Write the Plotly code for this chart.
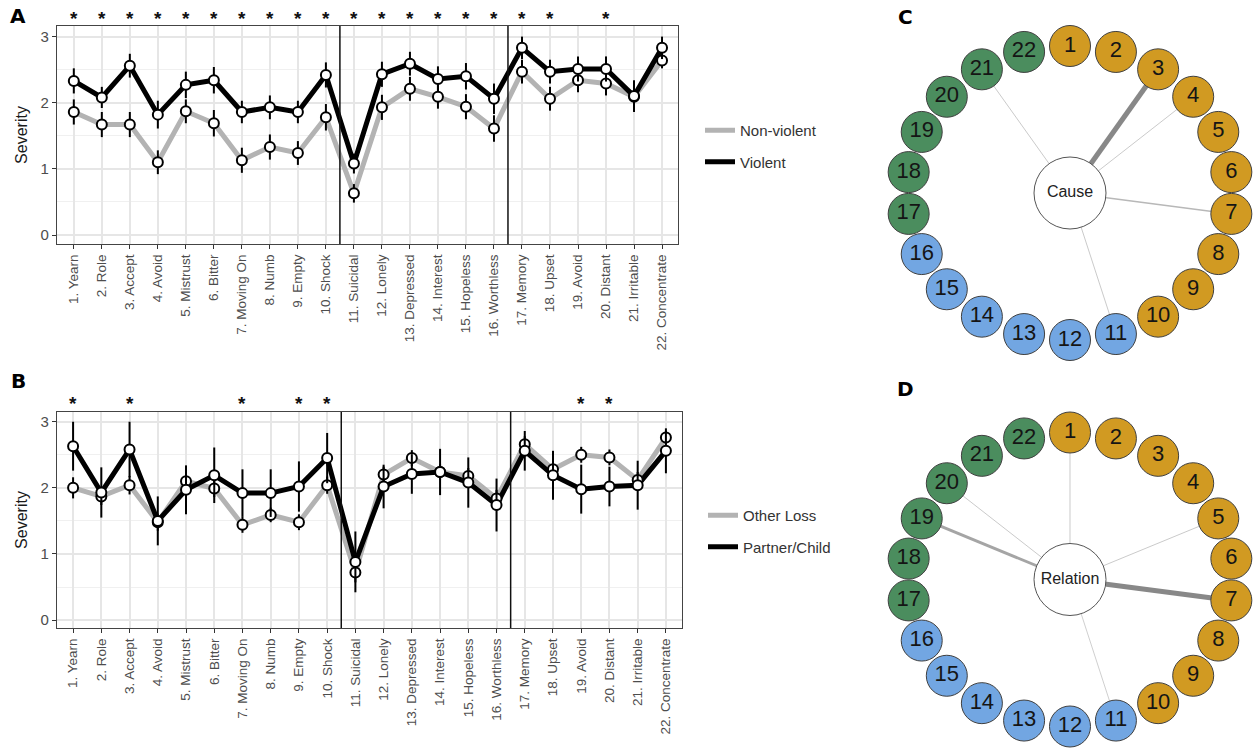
import numpy as np
import plotly.graph_objects as go

# ---------------- data ----------------
symptoms = ["1. Yearn", "2. Role", "3. Accept", "4. Avoid", "5. Mistrust", "6. Bitter",
            "7. Moving On", "8. Numb", "9. Empty", "10. Shock", "11. Suicidal", "12. Lonely",
            "13. Depressed", "14. Interest", "15. Hopeless", "16. Worthless", "17. Memory",
            "18. Upset", "19. Avoid", "20. Distant", "21. Irritable", "22. Concentrate"]
item_no = list(range(1, 23))

# Panel A
nonviolent = [1.86, 1.67, 1.67, 1.10, 1.87, 1.69, 1.13, 1.33, 1.24, 1.78, 0.63, 1.93,
              2.21, 2.09, 1.94, 1.61, 2.47, 2.06, 2.34, 2.29, 2.09, 2.64]
nonviolent_err = [0.19, 0.19, 0.19, 0.18, 0.18, 0.20, 0.19, 0.19, 0.18, 0.20, 0.14, 0.19,
                  0.18, 0.18, 0.19, 0.20, 0.18, 0.18, 0.18, 0.18, 0.15, 0.12]
violent = [2.33, 2.08, 2.56, 1.82, 2.27, 2.34, 1.86, 1.93, 1.86, 2.42, 1.08, 2.43,
           2.59, 2.36, 2.40, 2.06, 2.83, 2.47, 2.51, 2.51, 2.10, 2.83]
violent_err = [0.19, 0.16, 0.18, 0.21, 0.20, 0.20, 0.17, 0.18, 0.17, 0.19, 0.15, 0.19,
               0.18, 0.19, 0.20, 0.23, 0.17, 0.18, 0.19, 0.19, 0.24, 0.17]
stars_A = [1, 2, 3, 4, 5, 6, 7, 8, 9, 10, 11, 12, 13, 14, 15, 16, 17, 18, 20]

# Panel B
other_loss = [2.00, 1.87, 2.04, 1.48, 2.10, 1.99, 1.44, 1.59, 1.48, 2.04, 0.72, 2.20,
              2.45, 2.24, 2.18, 1.84, 2.66, 2.28, 2.50, 2.46, 2.12, 2.76]
other_loss_err = [0.16, 0.13, 0.14, 0.13, 0.13, 0.13, 0.12, 0.11, 0.12, 0.13, 0.15, 0.12,
                  0.12, 0.12, 0.12, 0.13, 0.12, 0.12, 0.12, 0.12, 0.12, 0.10]
partner_child = [2.63, 1.93, 2.58, 1.50, 1.97, 2.19, 1.92, 1.92, 2.02, 2.45, 0.88, 2.02,
                 2.21, 2.24, 2.08, 1.74, 2.56, 2.19, 1.98, 2.02, 2.04, 2.56]
partner_child_err = [0.37, 0.38, 0.42, 0.37, 0.37, 0.42, 0.36, 0.36, 0.38, 0.38, 0.46, 0.33,
                     0.30, 0.35, 0.38, 0.40, 0.30, 0.37, 0.37, 0.30, 0.37, 0.34]
stars_B = [1, 3, 7, 9, 10, 19, 20]

dividers = [10.5, 16.5]
star_level = 3.27

# Panels C / D (networks)
node_ids = list(range(1, 23))
node_group = ["Grief"] * 10 + ["Depression"] * 6 + ["PTSD"] * 6
group_colors = {"Grief": "#D19A22", "Depression": "#72A6E2", "PTSD": "#4B8D5E"}
cause_edge_nodes = [3, 4, 7, 11, 21]
cause_edge_weights = [0.30, 0.05, 0.09, 0.05, 0.05]
relation_edge_nodes = [1, 5, 7, 11, 19, 20]
relation_edge_weights = [0.05, 0.05, 0.30, 0.04, 0.17, 0.05]

# ---------------- figure ----------------
W, H = 1256, 752
fig = go.Figure()
FONT = "Liberation Sans, Arial, sans-serif"
GRAY_LINE = "#B3B3B3"
YR_A = [-0.136, 3.16]
YR_B = [-0.12, 3.147]


def px_x(p):
    return p / W


def px_y(p):
    return 1 - p / H


def add_panel(xa, ya, yr, lo, lo_err, hi, hi_err, names, legend_name, stars):
    fig.add_trace(go.Scatter(x=item_no, y=lo, mode="lines", name=names[0],
                             line=dict(color=GRAY_LINE, width=5), xaxis=xa, yaxis=ya,
                             legend=legend_name, legendgroup=legend_name + "a",
                             hoverinfo="skip"))
    fig.add_trace(go.Scatter(x=item_no, y=hi, mode="lines", name=names[1],
                             line=dict(color="black", width=5), xaxis=xa, yaxis=ya,
                             legend=legend_name, legendgroup=legend_name + "b",
                             hoverinfo="skip"))
    for vals, errs in ((lo, lo_err), (hi, hi_err)):
        fig.add_trace(go.Scatter(x=item_no, y=vals, mode="markers", showlegend=False,
                                 marker=dict(size=10, color="white",
                                             line=dict(color="black", width=2)),
                                 error_y=dict(type="data", array=errs, visible=True,
                                              color="black", thickness=2, width=0),
                                 xaxis=xa, yaxis=ya))
    star_frac = (star_level - yr[0]) / (yr[1] - yr[0])
    for s in stars:
        fig.add_annotation(x=s, y=star_frac, xref=xa, yref=ya + " domain", text="<b>*</b>",
                           showarrow=False, xanchor="center", yanchor="middle",
                           font=dict(size=19, color="#111", family=FONT))
    for d in dividers:
        fig.add_shape(type="line", x0=d, x1=d, y0=0, y1=1, xref=xa, yref=ya + " domain",
                      line=dict(color="#111", width=1.5))


add_panel("x", "y", YR_A, nonviolent, nonviolent_err, violent, violent_err,
          ["Non-violent", "Violent"], "legend", stars_A)
add_panel("x2", "y2", YR_B, other_loss, other_loss_err, partner_child, partner_child_err,
          ["Other Loss", "Partner/Child"], "legend2", stars_B)

# ---- networks ----
RX, RY = 163, 147
angles = np.deg2rad(90 - (np.array(node_ids) - 1) * 360 / 22)
node_x = RX * np.cos(angles)
node_y = RY * np.sin(angles)
node_cols = [group_colors[g] for g in node_group]


def add_network(xa, ya, edge_nodes, edge_weights, label):
    for n, w in zip(edge_nodes, edge_weights):
        g = int(205 - w * 230)
        fig.add_trace(go.Scatter(x=[0, node_x[n - 1]], y=[0, node_y[n - 1]], mode="lines",
                                 line=dict(color=f"rgb({g},{g},{g})", width=max(0.8, w * 17)),
                                 showlegend=False, xaxis=xa, yaxis=ya, hoverinfo="skip"))
    fig.add_trace(go.Scatter(x=node_x, y=node_y, mode="markers+text",
                             text=[str(i) for i in node_ids], textposition="middle center",
                             textfont=dict(size=22, color="#151515", family=FONT),
                             marker=dict(size=41, color=node_cols,
                                         line=dict(color="#404040", width=1)),
                             showlegend=False, xaxis=xa, yaxis=ya))
    fig.add_trace(go.Scatter(x=[0], y=[0], mode="markers+text", text=[label],
                             textposition="middle center",
                             textfont=dict(size=16, color="#222", family=FONT),
                             marker=dict(size=72, color="white",
                                         line=dict(color="#555", width=1)),
                             showlegend=False, xaxis=xa, yaxis=ya))


add_network("x3", "y3", cause_edge_nodes, cause_edge_weights, "Cause")
add_network("x4", "y4", relation_edge_nodes, relation_edge_weights, "Relation")

# ---------------- axes ----------------
xcommon = dict(tickmode="array", tickvals=item_no, ticktext=symptoms, tickangle=-90,
               tickfont=dict(size=13.5, color="#4D4D4D", family=FONT),
               showgrid=True, gridcolor="#E6E6E6", gridwidth=1.8,
               showline=True, linecolor="#444", linewidth=1.2, mirror=True,
               ticks="outside", ticklen=4, tickcolor="#333", zeroline=False, fixedrange=True,
               automargin=False)
ycommon = dict(tickmode="array", tickvals=[0, 1, 2, 3],
               tickfont=dict(size=15, color="#4D4D4D", family=FONT),
               showgrid=True, gridcolor="#E6E6E6", gridwidth=1.8,
               minor=dict(tickmode="array", tickvals=[0.5, 1.5, 2.5], showgrid=True,
                          gridcolor="#F0F0F0", gridwidth=1.2, ticks=""),
               showline=True, linecolor="#444", linewidth=1.2, mirror=True,
               ticks="outside", ticklen=4, tickcolor="#333", zeroline=False, fixedrange=True,
               automargin=False,
               title=dict(text="Severity", font=dict(size=16, color="#1a1a1a", family=FONT),
                          standoff=8))

fig.update_layout(
    xaxis=dict(xcommon, domain=[px_x(57), px_x(678)], range=[0.4, 22.57], anchor="y"),
    yaxis=dict(ycommon, domain=[px_y(244), px_y(26)], range=YR_A, anchor="x"),
    xaxis2=dict(xcommon, domain=[px_x(57), px_x(682)], range=[0.43, 22.57], anchor="y2"),
    yaxis2=dict(ycommon, domain=[px_y(628), px_y(412)], range=YR_B, anchor="x2"),
    xaxis3=dict(domain=[px_x(880), 1], range=[-190, 186], visible=False, anchor="y3",
                fixedrange=True, automargin=False),
    yaxis3=dict(domain=[px_y(370), px_y(20)], range=[-177, 173], visible=False, anchor="x3",
                fixedrange=True, automargin=False),
    xaxis4=dict(domain=[px_x(880), 1], range=[-190, 186], visible=False, anchor="y4",
                fixedrange=True, automargin=False),
    yaxis4=dict(domain=[0, px_y(390)], range=[-172.5, 189.5], visible=False, anchor="x4",
                fixedrange=True, automargin=False),
    width=W, height=H, margin=dict(l=0, r=0, t=0, b=0, autoexpand=False),
    paper_bgcolor="white", plot_bgcolor="white",
    font=dict(family=FONT),
    legend=dict(x=px_x(700), y=px_y(114), xanchor="left", yanchor="top",
                font=dict(size=15, color="#333", family=FONT), tracegroupgap=9,
                bgcolor="rgba(0,0,0,0)", itemwidth=30),
    legend2=dict(x=px_x(703), y=px_y(499), xanchor="left", yanchor="top",
                 font=dict(size=15, color="#333", family=FONT), tracegroupgap=9,
                 bgcolor="rgba(0,0,0,0)", itemwidth=30),
)

for letter, lx, ly in (("A", 18, 16), ("B", 18, 381), ("C", 905, 17), ("D", 905, 389)):
    fig.add_annotation(text=f"<b>{letter}</b>", x=px_x(lx), y=px_y(ly), xref="paper",
                       yref="paper", showarrow=False, xanchor="center", yanchor="middle",
                       font=dict(size=20, color="black", family="DejaVu Sans, sans-serif"))

fig.write_html("out.html", config={"displayModeBar": False},
               post_script="document.body.style.margin='0';document.body.style.overflow='hidden';")
